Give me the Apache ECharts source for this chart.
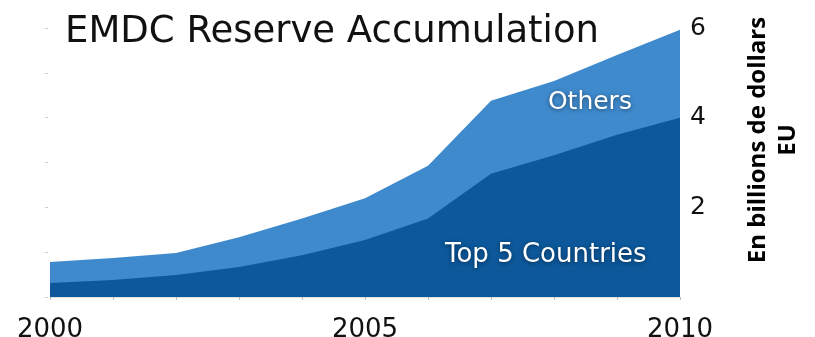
<!DOCTYPE html>
<html>
<head>
<meta charset="utf-8">
<script src="https://cdn.jsdelivr.net/npm/echarts@6/dist/echarts.min.js"></script>
<style>
  html, body { margin: 0; padding: 0; background: #fff; }
  #main { width: 815px; height: 337px; }
</style>
</head>
<body>
<div id="main"></div>
<script>
// values (billions of dollars)
var years = [2000, 2001, 2002, 2003, 2004, 2005, 2006, 2007, 2008, 2009, 2010];
var top5 = [0.31, 0.38, 0.49, 0.67, 0.93, 1.27, 1.75, 2.75, 3.16, 3.62, 4.0];
// top edge of the light band = top 5 + others
var total = [0.78, 0.87, 0.98, 1.33, 1.75, 2.2, 2.93, 4.38, 4.82, 5.4, 5.96];
var xLabels = [2000, 2005, 2010];
var yLabels = [2, 4, 6];

function pairs(vals) {
    var out = [];
    for (var i = 0; i < years.length; i++) {
        out.push([years[i], vals[i]]);
    }
    return out;
}

var myChart = echarts.init(document.getElementById('main'));
var txtFont = 'DejaVu Sans, sans-serif';

var bandLabel = {
    show: true,
    position: 'inside',
    fontFamily: txtFont,
    color: '#fff',
    textShadowColor: 'rgba(0,0,0,0.5)',
    textShadowBlur: 4,
    textShadowOffsetY: 1
};

var option = {
    animation: false,
    title: {
        text: 'EMDC Reserve Accumulation',
        left: 60,
        top: 9,
        textStyle: { fontFamily: txtFont, fontSize: 37, fontWeight: 'normal', color: '#111' }
    },
    grid: { left: 50, right: 135, top: 28, bottom: 40, outerBoundsMode: 'none' },
    xAxis: {
        type: 'value',
        min: 2000,
        max: 2010,
        interval: 1,
        axisLine: { show: true, lineStyle: { color: '#e2e2e2', width: 1 } },
        axisTick: { show: true, length: 3, lineStyle: { color: '#bbb' } },
        splitLine: { show: false },
        axisLabel: {
            margin: 20,
            fontFamily: txtFont,
            fontSize: 26,
            color: '#111',
            formatter: function(v) {
                return xLabels.indexOf(v) >= 0 ? String(v) : '';
            }
        }
    },
    yAxis: [{
        type: 'value',
        position: 'right',
        min: 0,
        max: 6,
        interval: 1,
        axisLine: { show: false },
        axisTick: { show: false },
        splitLine: { show: false },
        axisLabel: {
            margin: 10,
            padding: [0, 0, 8, 0],
            fontFamily: txtFont,
            fontSize: 25,
            color: '#111',
            formatter: function(v) {
                return yLabels.indexOf(v) >= 0 ? String(v) : '';
            }
        }
    }, {
        type: 'value',
        position: 'left',
        min: 0,
        max: 6,
        interval: 1,
        offset: 2,
        axisLine: { show: false },
        axisTick: { show: true, length: 3, lineStyle: { color: '#ccc' } },
        axisLabel: { show: false },
        splitLine: { show: false }
    }],
    graphic: [{
        type: 'text',
        x: 773,
        y: 140,
        rotation: Math.PI / 2,
        style: {
            text: 'En billions de dollars\nEU',
            align: 'center',
            verticalAlign: 'middle',
            fontFamily: 'Open Sans, sans-serif',
            fontWeight: 'bold',
            fontSize: 24,
            lineHeight: 30,
            fill: '#000'
        }
    }],
    series: [{
        name: 'Others',
        type: 'line',
        symbol: 'none',
        lineStyle: { width: 0 },
        areaStyle: { color: '#3f8acd', opacity: 1 },
        data: pairs(total),
        markPoint: {
            symbol: 'circle',
            symbolSize: 0,
            label: Object.assign({}, bandLabel, { formatter: 'Others', fontSize: 25 }),
            data: [{ coord: [2008.57, 4.33] }]
        }
    }, {
        name: 'Top 5 Countries',
        type: 'line',
        symbol: 'none',
        lineStyle: { width: 0 },
        areaStyle: { color: '#0c589b', opacity: 1 },
        data: pairs(top5),
        markPoint: {
            symbol: 'circle',
            symbolSize: 0,
            label: Object.assign({}, bandLabel, { formatter: 'Top 5 Countries', fontSize: 26 }),
            data: [{ coord: [2007.87, 0.93] }]
        }
    }]
};
myChart.setOption(option);
</script>
</body>
</html>
